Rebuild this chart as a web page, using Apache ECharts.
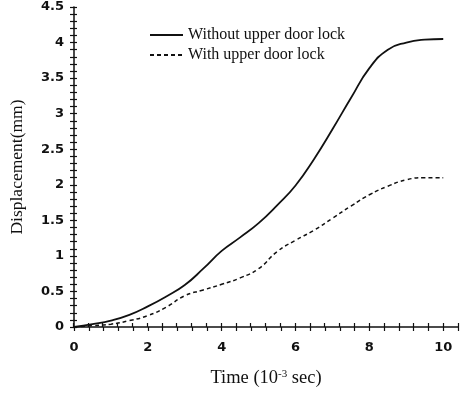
<!DOCTYPE html>
<html><head><meta charset="utf-8">
<script src="https://cdn.jsdelivr.net/npm/echarts@6/dist/echarts.min.js"></script>
<style>html,body{margin:0;padding:0;background:#fff}#c{width:466px;height:393px}</style>
</head><body><div id="c"></div>
<script>
const time = [0,0.5,1,1.5,2,2.5,3,3.5,4,4.5,5,5.5,6,6.5,7,7.5,8,8.5,9,9.5,10];
const withoutLock = [0,0.04,0.09,0.17,0.29,0.43,0.59,0.82,1.07,1.26,1.46,1.71,1.99,2.36,2.78,3.22,3.64,3.90,4.00,4.04,4.05];
const withLock = [0,0.02,0.04,0.09,0.16,0.28,0.44,0.52,0.60,0.69,0.82,1.06,1.22,1.36,1.53,1.70,1.86,1.98,2.07,2.10,2.10];
const xTickLabels = ['0','2','4','6','8','10'];
const yTickLabels = ['0','0.5','1','1.5','2','2.5','3','3.5','4','4.5'];
const seriesNames = ['Without upper door lock','With upper door lock'];

const chart = echarts.init(document.getElementById('c'), null, {renderer:'canvas'});
const gridPos = {left:73, right:8, top:7, bottom:66};
const tickFont = {fontFamily:'DejaVu Sans', fontWeight:'bold', fontSize:13, color:'#111'};
const serif = 'Liberation Serif';
function fmt(list){ return v => { const s = String(Math.round(v*10)/10); return list.indexOf(s) >= 0 ? s : ''; }; }
function axisBase(min,max,interval){
  return {type:'value', min:min, max:max, interval:interval, splitLine:{show:false}};
}
const option = {
  animation:false,
  backgroundColor:'#fff',
  grid:[Object.assign({},gridPos), Object.assign({},gridPos)],
  legend:{
    data:seriesNames, orient:'vertical', left:144, top:22,
    itemWidth:33, itemHeight:12, itemGap:4,
    itemStyle:{opacity:0},
    textStyle:{fontFamily:serif, fontSize:16, color:'#111'}
  },
  xAxis:[
    Object.assign(axisBase(0,10.4,0.4),{
      gridIndex:0,
      axisLine:{lineStyle:{color:'#111',width:1.5}},
      axisTick:{length:4,lineStyle:{color:'#111',width:1.2}},
      axisLabel:Object.assign({formatter:fmt(xTickLabels), margin:14}, tickFont),
      name:'{a|Time (10}{s|-3}{a| sec)}', nameLocation:'middle', nameGap:42,
      nameTextStyle:{rich:{a:{fontFamily:serif,fontSize:18.5,color:'#111'},s:{fontFamily:serif,fontSize:11,color:'#111',verticalAlign:'top',padding:[0,0,7,0]}}}
    }),
    Object.assign(axisBase(0,10.4,0.4),{
      gridIndex:1, axisLine:{show:false},
      axisTick:{inside:true,length:4,lineStyle:{color:'#111',width:1.2}},
      axisLabel:{show:false}
    })
  ],
  yAxis:[
    Object.assign(axisBase(0,4.5,0.1),{
      gridIndex:0,
      axisLine:{lineStyle:{color:'#111',width:1.5}},
      axisTick:{length:4,lineStyle:{color:'#111',width:1.2}},
      axisLabel:Object.assign({formatter:fmt(yTickLabels), margin:10}, tickFont),
      name:'Displacement(mm)', nameLocation:'middle', nameGap:48,
      nameTextStyle:{fontFamily:serif,fontSize:17.5,color:'#111'}
    }),
    Object.assign(axisBase(0,4.5,0.1),{
      gridIndex:1, axisLine:{show:false},
      axisTick:{inside:true,length:4,lineStyle:{color:'#111',width:1.2}},
      axisLabel:{show:false}
    })
  ],
  series:[
    {name:seriesNames[0], type:'line', xAxisIndex:0, yAxisIndex:0, symbol:'none', smooth:true,
     lineStyle:{color:'#111',width:1.8}, itemStyle:{color:'#111'},
     data:time.map((t,i)=>[t,withoutLock[i]])},
    {name:seriesNames[1], type:'line', xAxisIndex:0, yAxisIndex:0, symbol:'none', smooth:true,
     lineStyle:{color:'#111',width:1.5,type:[4,3]}, itemStyle:{color:'#111'},
     data:time.map((t,i)=>[t,withLock[i]])}
  ]
};
chart.setOption(option);
</script></body></html>
